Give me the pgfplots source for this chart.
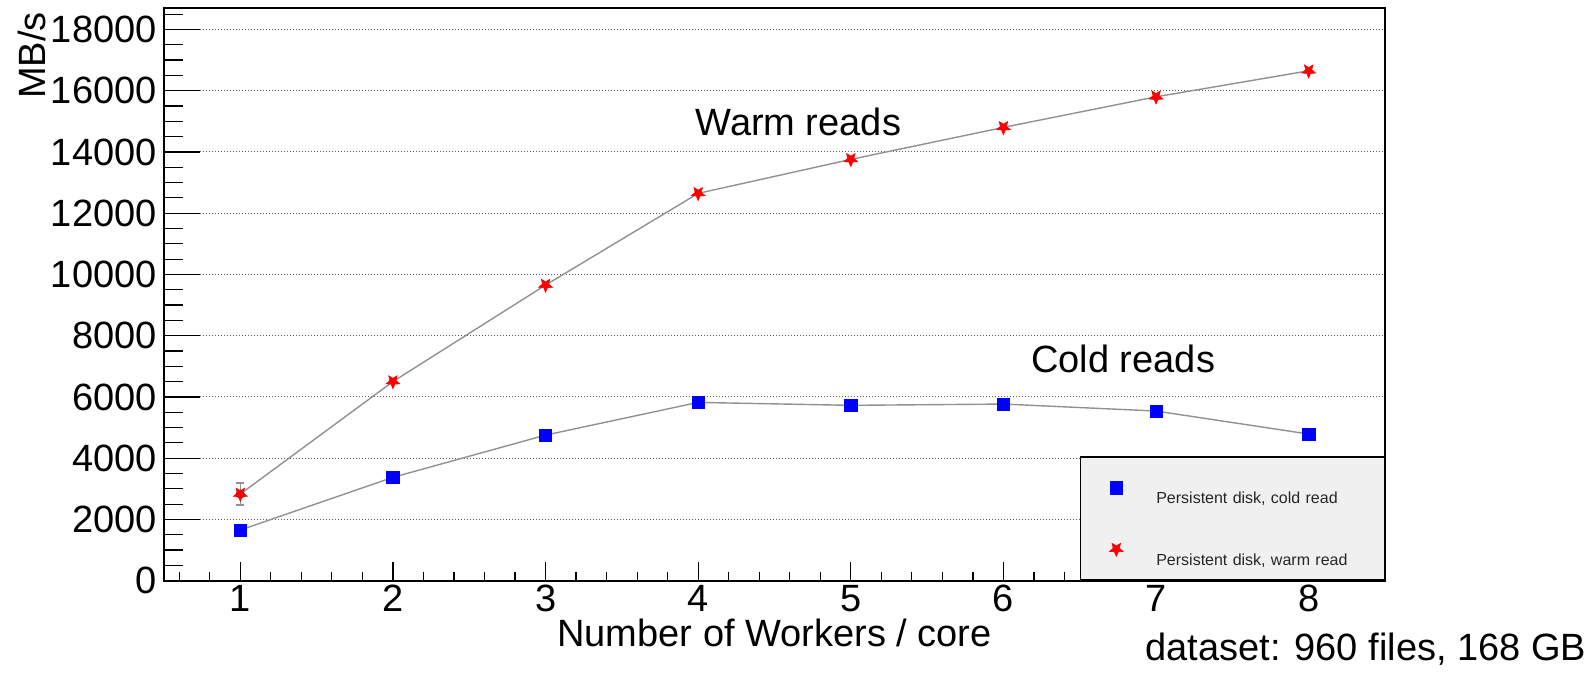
\documentclass[border=0pt]{standalone}
\usepackage{fontspec}
\setmainfont{Liberation Sans}
\usepackage{pgfplots}
\pgfplotsset{compat=1.18}
\usetikzlibrary{plotmarks}

\pgfdeclareplotmark{invstar}{%
  \pgfpathmoveto{\pgfpointpolar{270}{\pgfplotmarksize}}%
  \pgfpathlineto{\pgfpointpolar{306}{0.45\pgfplotmarksize}}%
  \pgfpathlineto{\pgfpointpolar{342}{\pgfplotmarksize}}%
  \pgfpathlineto{\pgfpointpolar{18}{0.45\pgfplotmarksize}}%
  \pgfpathlineto{\pgfpointpolar{54}{\pgfplotmarksize}}%
  \pgfpathlineto{\pgfpointpolar{90}{0.45\pgfplotmarksize}}%
  \pgfpathlineto{\pgfpointpolar{126}{\pgfplotmarksize}}%
  \pgfpathlineto{\pgfpointpolar{162}{0.45\pgfplotmarksize}}%
  \pgfpathlineto{\pgfpointpolar{198}{\pgfplotmarksize}}%
  \pgfpathlineto{\pgfpointpolar{234}{0.45\pgfplotmarksize}}%
  \pgfpathclose
  \pgfusepathqfillstroke}

\definecolor{legfill}{RGB}{240,240,240}
\definecolor{linegray}{RGB}{145,145,145}

\begin{document}
\begin{tikzpicture}
\begin{axis}[
  name=ax,
  scale only axis,
  width=610.5bp, height=286.35bp,
  xmin=0.5, xmax=8.5, ymin=0, ymax=18700,
  xtick={1,2,3,4,5,6,7,8},
  ytick={0,2000,4000,6000,8000,10000,12000,14000,16000,18000},
  minor xtick={0.6,0.8,1.2,1.4,1.6,1.8,2.2,2.4,2.6,2.8,3.2,3.4,3.6,3.8,4.2,4.4,4.6,4.8,5.2,5.4,5.6,5.8,6.2,6.4,6.6,6.8,7.2,7.4,7.6,7.8,8.2,8.4},
  minor ytick={500,1000,1500,2500,3000,3500,4500,5000,5500,6500,7000,7500,8500,9000,9500,10500,11000,11500,12500,13000,13500,14500,15000,15500,16500,17000,17500,18500},
  tick pos=left, tick align=inside,
  xtick style={/pgfplots/major tick length=9.5bp, /pgfplots/minor tick length=4.5bp},
  ytick style={/pgfplots/major tick length=18bp, /pgfplots/minor tick length=9.5bp},
  every tick/.append style={black, line width=0.6bp},
  axis line style={line width=0.8bp},
  ymajorgrids,
  major grid style={black!65, line width=0.5bp, dash pattern=on 0.5bp off 1bp},
  scaled y ticks=false,
  /pgf/number format/1000 sep={},
  /pgf/number format/assume math mode=true,
  tick label style={font=\fontsize{19bp}{22bp}\selectfont},
  xticklabel style={anchor=base, inner sep=0pt, yshift=-15.5bp},
  yticklabel style={anchor=east, inner sep=0pt, xshift=-3.5bp},
  legend style={at={(rel axis cs:1,0)}, anchor=south east, fill=legfill, draw=black,
    line width=0.7bp, inner sep=0pt, row sep=0pt, column sep=0pt,
    font=\fontsize{8bp}{10bp}\selectfont,
    nodes={inner sep=0pt, text width=114bp, align=left, text=black!85}},
  legend cell align=left,
  legend image code/.code={%
    \path[draw=none, fill=none] (-18bp,-9.4bp) rectangle (20bp,21.4bp);
    \draw[#1, only marks, mark repeat=1] plot coordinates {(0bp,6bp)};},
  clip mode=individual,
]
\addplot[forget plot, only marks, mark=none,
  error bars/.cd, y dir=both, y explicit,
  error bar style={linegray, line width=0.6bp},
  error mark options={rotate=90, mark size=2bp, linegray, line width=0.6bp}]
  coordinates {(1,2830) +- (0,361)};
\addplot[linegray, line width=0.7bp, mark=square*, mark size=3.1bp,
  mark options={fill=blue, draw=blue, solid, line width=0.3bp}]
  coordinates {(1,1655) (2,3375) (3,4754) (4,5822) (5,5726) (6,5768) (7,5540) (8,4789)};
\addlegendentry{Persistent disk, cold read}
\addplot[linegray, line width=0.7bp, mark=invstar, mark size=3.6bp,
  mark options={fill=red, draw=red, solid, line width=0.3bp}]
  coordinates {(1,2830) (2,6502) (3,9653) (4,12647) (5,13756) (6,14801) (7,15800) (8,16649)};
\addlegendentry{Persistent disk, warm read}
\node[anchor=base west, inner sep=0pt, font=\fontsize{19bp}{22bp}\selectfont] at (axis cs:3.98,14549) {Warm reads};
\node[anchor=base west, inner sep=0pt, font=\fontsize{19bp}{22bp}\selectfont] at (axis cs:6.18,6810) {Cold reads};
\end{axis}
\node[rotate=90, anchor=base east, inner sep=0pt, font=\fontsize{19bp}{22bp}\selectfont] at ([xshift=-59.5bp, yshift=-2bp]ax.north west) {MB/s};
\node[anchor=base, inner sep=0pt, font=\fontsize{19bp}{22bp}\selectfont] at ([yshift=-32.9bp]ax.south) {Number of Workers / core};
\node[anchor=base west, inner sep=0pt, font=\fontsize{19bp}{22bp}\selectfont] at ([xshift=490.5bp, yshift=-39.65bp]ax.south west) {dataset: 960 files, 168 GB};
\path ([shift={(-82bp,-46.65bp)}]ax.south west) rectangle ([shift={(103bp,4bp)}]ax.north east);
\end{tikzpicture}
\end{document}
